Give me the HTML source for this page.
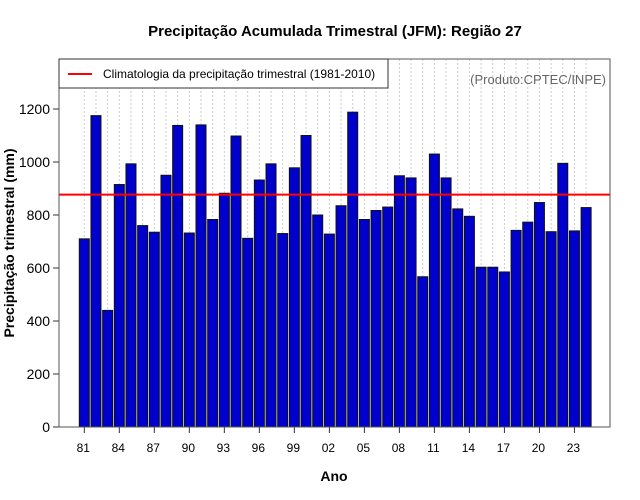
<!DOCTYPE html>
<html><head><meta charset="utf-8"><style>body{margin:0;background:#fff}svg{display:block;font-family:"Liberation Sans",sans-serif}</style></head>
<body>
<svg id="chart" width="640" height="500">
<text x="335" y="36" text-anchor="middle" font-size="15" font-weight="bold">Precipitação Acumulada Trimestral (JFM): Região 27</text>
<text x="334" y="481" text-anchor="middle" font-size="14" font-weight="bold">Ano</text>
<text transform="translate(14,243) rotate(-90)" text-anchor="middle" font-size="14" font-weight="bold">Precipitação trimestral (mm)</text>
<g id="grid"></g><g id="bars"></g><g id="axes"></g>
<rect x="59" y="59" width="551" height="368" fill="none" stroke="#555"/>
<g>
<rect x="59" y="59" width="329" height="29" fill="#fff" stroke="#333"/>
<line x1="68" y1="74" x2="92" y2="74" stroke="#f00" stroke-width="2"/>
<text x="103" y="78" font-size="12">Climatologia da precipitação trimestral (1981-2010)</text>
</g>
<text x="606" y="84" text-anchor="end" font-size="13" fill="#666">(Produto:CPTEC/INPE)</text>
</svg>
<script>
const years=[1981,1982,1983,1984,1985,1986,1987,1988,1989,1990,1991,1992,1993,1994,1995,1996,1997,1998,1999,2000,2001,2002,2003,2004,2005,2006,2007,2008,2009,2010,2011,2012,2013,2014,2015,2016,2017,2018,2019,2020,2021,2022,2023,2024];
const values=[710,1175,440,915,993,760,735,950,1138,732,1140,783,882,1098,712,932,993,730,978,1100,800,728,835,1188,783,817,830,948,940,567,1030,940,823,795,603,603,585,742,773,847,737,995,740,828];
const climatology=877;
const yTicks=[0,200,400,600,800,1000,1200];
const ns="http://www.w3.org/2000/svg";
const X=i=>84.3+i*11.67, Y=v=>427-v*0.265;
function mk(t,a,p,txt){const e=document.createElementNS(ns,t);for(const k in a)e.setAttribute(k,a[k]);if(txt!=null)e.textContent=txt;p.appendChild(e);return e;}
const grid=document.getElementById('grid'),bars=document.getElementById('bars'),axes=document.getElementById('axes');
years.forEach((yr,i)=>{
 const g=mk('line',{x1:X(i),x2:X(i),y1:59,y2:427,stroke:'#ccc','stroke-dasharray':'2,2'},grid);
 
 
 const b=mk('rect',{x:X(i)-5,y:Y(values[i]),width:10,height:values[i]*0.265,fill:'#0000cd',stroke:'#111','stroke-width':1},bars);
 
 
 if(i%3===0){
  mk('line',{x1:X(i),x2:X(i),y1:427,y2:433,stroke:'#333'},axes);
  const t=mk('text',{x:X(i)-1,y:452,'text-anchor':'middle','font-size':12},axes,String(yr).slice(2));
  
  
 }
});
yTicks.forEach(v=>{
 mk('line',{x1:53,x2:59,y1:Y(v),y2:Y(v),stroke:'#333'},axes);
 const t=mk('text',{x:50,y:Y(v)+5,'text-anchor':'end','font-size':14},axes,String(v));
 
 
});
const c=mk('line',{x1:59,x2:610,y1:Y(climatology),y2:Y(climatology),stroke:'#f00','stroke-width':2},axes);


</script>
</body></html>
